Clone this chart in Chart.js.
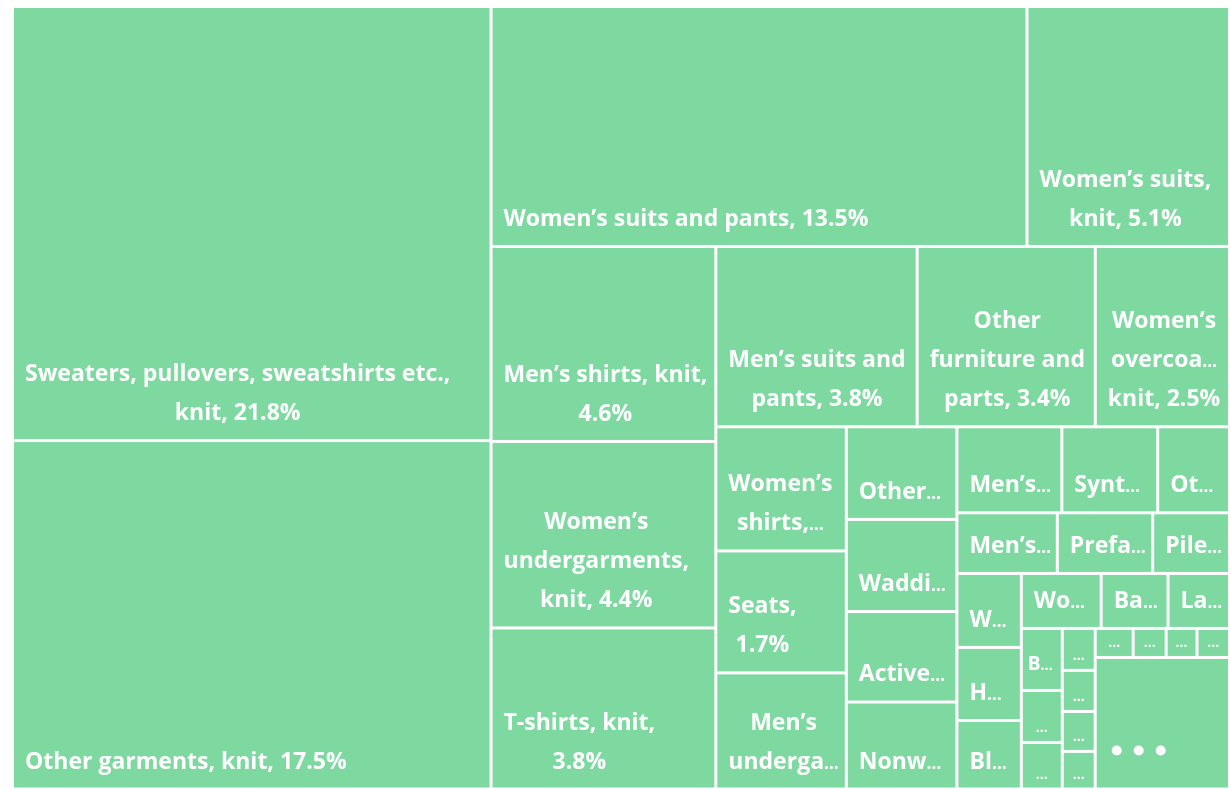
<!DOCTYPE html>
<html>
<head>
<meta charset="utf-8">
<script src="https://cdn.jsdelivr.net/npm/chart.js@4.4.1/dist/chart.umd.min.js"></script>
<style>
  html, body { margin: 0; padding: 0; background: #ffffff; }
  #grafico { display: block; }
</style>
</head>
<body>
<canvas id="grafico" width="1230" height="789"></canvas>
<script>
// export shares (%), in the order the treemap lays them out
const categorias = [
  "Sweaters, pullovers, sweatshirts etc., knit",
  "Other garments, knit",
  "Women’s suits and pants",
  "Women’s suits, knit",
  "Men’s shirts, knit",
  "Women’s undergarments, knit",
  "T-shirts, knit",
  "Men’s suits and pants",
  "Other furniture and parts",
  "Women’s overcoats, knit",
  "Women’s shirts, blouses, not knit",
  "Seats",
  "Men’s undergarments, not knit",
  "Other made-up textile articles",
  "Wadding and articles thereof",
  "Active wear, not knit",
  "Nonwovens",
  "Men’s overcoats, knit",
  "Synthetic filament woven fabrics",
  "Other knit fabrics",
  "Men’s shirts, not knit",
  "Prefabricated buildings",
  "Pile fabrics, knit",
  "Women’s overcoats, not knit",
  "Human hair and wigs",
  "Blankets and travelling rugs",
  "Women’s blouses, knit",
  "Babies’ garments, knit",
  "Labels and badges",
  "Bed linen and table linen",
  "Gloves and mittens, knit",
  "Felt",
  "Track suits and swimwear, knit",
  "Knitted fabrics, wide",
  "Coated textile fabrics",
  "Rubber thread and cord",
  "Curtains and blinds",
  "Ties and cravats",
  "Hosiery, knit",
  "Woven cotton fabrics",
  "Other products"
]
const participacao = [
  21.8, 17.5, 13.5, 5.1, 4.6, 4.4, 3.8, 3.81, 3.37, 2.54,
  1.70, 1.67, 1.59, 1.075, 1.07, 1.05, 1.01,
  0.947, 0.865, 0.648, 0.639, 0.607, 0.489,
  0.50, 0.494, 0.463, 0.461, 0.386, 0.355,
  0.2665, 0.2235, 0.20, 0.145, 0.142, 0.138, 0.130,
  0.1157, 0.1005, 0.094, 0.099,
  1.854
]
const corCelula = '#7ed9a1'

// squarified layout; a strip keeps growing while the last tile's aspect does not get worse
function squarify(nos, x0, y0, x1, y1, kx, ky) {
  const saida = []
  let restante = nos.reduce((s, n) => s + n.valor, 0)
  let i = 0
  while (i < nos.length) {
    const largura = (x1 - x0) * kx
    const altura = (y1 - y0) * ky
    const coluna = largura >= altura
    const comprimento = coluna ? altura : largura
    const profundidade = coluna ? largura : altura
    const aspecto = (v, soma) => {
      const espessura = profundidade * soma / restante
      const lado = comprimento * v / soma
      return Math.max(espessura / lado, lado / espessura)
    }
    let soma = nos[i].valor
    let j = i + 1
    while (j < nos.length) {
      const ultimo = nos[j - 1].valor
      if (aspecto(ultimo, soma + nos[j].valor) > aspecto(ultimo, soma)) break
      soma += nos[j].valor
      j++
    }
    const faixa = nos.slice(i, j)
    if (coluna) {
      const xf = x0 + (x1 - x0) * soma / restante
      let y = y0
      faixa.forEach(n => {
        const yf = y + (y1 - y0) * n.valor / soma
        saida.push({ ...n, x0: x0, y0: y, x1: xf, y1: yf })
        y = yf
      })
      x0 = xf
    } else {
      const yf = y0 + (y1 - y0) * soma / restante
      let x = x0
      faixa.forEach(n => {
        const xe = x + (x1 - x0) * n.valor / soma
        saida.push({ ...n, x0: x, y0: y0, x1: xe, y1: yf })
        x = xe
      })
      y0 = yf
    }
    restante -= soma
    i = j
  }
  return saida
}

// the ellipsis is drawn a bit smaller than the text, so it is measured apart
let tamanhoAtual = 23
const fonte = tam => `bold ${tam}px "Open Sans"`

function mede(ctx, s) {
  if (!s.endsWith('…')) return ctx.measureText(s).width
  const base = ctx.measureText(s.slice(0, -1)).width
  ctx.font = fonte(tamanhoAtual * 0.75)
  const pontos = ctx.measureText('…').width
  ctx.font = fonte(tamanhoAtual)
  return base + pontos
}

function corta(ctx, s, maxW) {
  let base = s.replace(/…$/, '')
  while (base.length > 1 && mede(ctx, base + '…') > maxW) base = base.slice(0, -1)
  return base.replace(/\s+$/, '') + '…'
}

function quebraTexto(ctx, texto, maxW, maxLinhas) {
  const linhas = []
  let atual = ''
  texto.split(' ').forEach(p => {
    const teste = atual ? atual + ' ' + p : p
    if (mede(ctx, teste) <= maxW) { atual = teste; return }
    if (atual) linhas.push(atual)
    atual = ''
    if (mede(ctx, p) <= maxW) atual = p
    else linhas.push(corta(ctx, p, maxW))
  })
  if (atual) linhas.push(atual)
  if (linhas.length > maxLinhas) {
    const ultima = linhas[maxLinhas - 1]
    linhas.length = maxLinhas
    linhas[maxLinhas - 1] = ultima.endsWith('…') ? ultima : corta(ctx, ultima + '…', maxW)
  }
  return linhas
}

function escreveLinha(ctx, s, cx, y) {
  const total = mede(ctx, s)
  const x = cx - total / 2
  ctx.textAlign = 'left'
  if (!s.endsWith('…')) { ctx.fillText(s, x, y); return }
  const base = s.slice(0, -1)
  ctx.fillText(base, x, y)
  const wBase = ctx.measureText(base).width
  ctx.font = fonte(tamanhoAtual * 0.75)
  ctx.fillText('…', x + wBase, y)
  ctx.font = fonte(tamanhoAtual)
}

function desenhaRotulo(ctx, c, l, t, r, b) {
  const w = r - l, h = b - t
  ctx.fillStyle = '#ffffff'
  ctx.textBaseline = 'alphabetic'
  if (c.i === categorias.length - 1) {
    // the grouped remainder only gets three dots
    for (let k = 0; k < 3; k++) {
      ctx.beginPath()
      ctx.arc(l + 20 + k * 22, b - 37, 5, 0, Math.PI * 2)
      ctx.fill()
    }
    return
  }
  if (w < 36 || h < 50) {
    ctx.font = 'bold 14px "Open Sans"'
    ctx.textAlign = 'center'
    ctx.fillText('…', l + w / 2, b - 9)
    return
  }
  tamanhoAtual = w >= 55 ? 23 : 19
  const margem = w >= 55 ? 11 : 5
  ctx.font = fonte(tamanhoAtual)
  const maxW = w - (w >= 55 ? 15.5 : 8)
  const maxLinhas = Math.max(1, Math.floor((h - 18) / 39))
  const linhas = quebraTexto(ctx, `${c.nome}, ${c.valor.toFixed(1)}%`, maxW, maxLinhas)
  const larguraBloco = Math.max(...linhas.map(s => mede(ctx, s)))
  const cx = l + margem + larguraBloco / 2
  linhas.forEach((s, k) => escreveLinha(ctx, s, cx, b - 19 - (linhas.length - 1 - k) * 39))
}

const treemapPlugin = {
  id: 'treemap',
  afterDatasetsDraw(chart) {
    const ctx = chart.ctx
    const xs = chart.scales.x
    const ys = chart.scales.y
    const kx = Math.abs(xs.getPixelForValue(100) - xs.getPixelForValue(0)) / 100
    const ky = Math.abs(ys.getPixelForValue(100) - ys.getPixelForValue(0)) / 100
    const nos = categorias.map((nome, i) => ({ nome, valor: participacao[i], i }))
    const celulas = squarify(nos, 0, 0, 100, 100, kx, ky)
    ctx.save()
    celulas.forEach(c => {
      const l = xs.getPixelForValue(c.x0) + 1.5
      const r = xs.getPixelForValue(c.x1) - 1.5
      const t = ys.getPixelForValue(c.y0) + 1.5
      const b = ys.getPixelForValue(c.y1) - 1.5
      ctx.fillStyle = corCelula
      ctx.fillRect(l, t, r - l, b - t)
      desenhaRotulo(ctx, c, l, t, r, b)
    })
    ctx.restore()
  }
}

new Chart(document.getElementById('grafico'), {
  type: 'scatter',
  data: { datasets: [{ label: 'Exports', data: [] }] },
  options: {
    responsive: false,
    animation: false,
    devicePixelRatio: 1,
    layout: { padding: { left: 12.5, top: 6.5, right: 0.5, bottom: 0 } },
    plugins: { legend: { display: false }, tooltip: { enabled: false } },
    scales: {
      x: { type: 'linear', min: 0, max: 100, display: false },
      y: { type: 'linear', min: 0, max: 100, display: false, reverse: true }
    }
  },
  plugins: [treemapPlugin]
})
</script>
</body>
</html>
